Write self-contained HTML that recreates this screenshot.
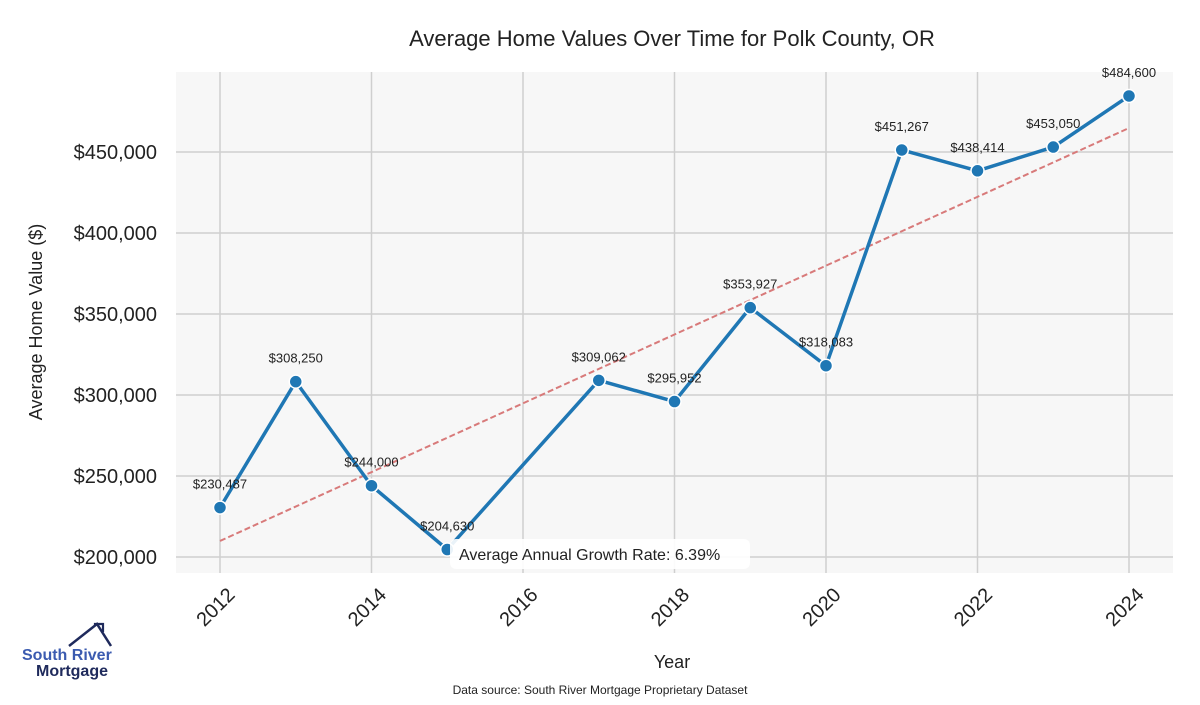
<!DOCTYPE html>
<html><head><meta charset="utf-8"><style>
body{margin:0;background:#fff;width:1200px;height:700px;overflow:hidden;font-family:"Liberation Sans",sans-serif}
</style></head><body>
<svg id="chart" width="1200" height="700" xmlns="http://www.w3.org/2000/svg">
<rect x="176" y="72" width="997" height="501" fill="#f7f7f7"/>
<g id="grid"></g>
<g id="marks"></g>
<text x="672" y="46" text-anchor="middle" font-size="22" fill="#222">Average Home Values Over Time for Polk County, OR</text>
<text x="672" y="668" text-anchor="middle" font-size="18" fill="#222">Year</text>
<text transform="translate(42,322) rotate(-90)" text-anchor="middle" font-size="18" fill="#222">Average Home Value ($)</text>
<text x="600" y="694" text-anchor="middle" font-size="12" fill="#222">Data source: South River Mortgage Proprietary Dataset</text>
<g>
<path d="M69,646 L97,624 L111,646" stroke="#1f2a5c" stroke-width="2.5" fill="none" stroke-linejoin="miter"/>
<path d="M95,626 L95,624 L103,624 L103,632" stroke="#1f2a5c" stroke-width="2.2" fill="none"/>
<text x="22" y="660" font-size="16" font-weight="bold" fill="#3b5bb0">South River</text>
<text x="36" y="676" font-size="16" font-weight="bold" fill="#1f2a5c">Mortgage</text>
</g>
</svg>
<script>
const years=[2012,2013,2014,2015,2017,2018,2019,2020,2021,2022,2023,2024];
const values=[230487,308250,244000,204630,309062,295952,353927,318083,451267,438414,453050,484600];
const yTicks=[200000,250000,300000,350000,400000,450000];
const xTicks=[2012,2014,2016,2018,2020,2022,2024];
const trendStart=209900, trendEnd=464800;
const ns="http://www.w3.org/2000/svg";
const X=y=>220+(y-2012)*75.75;
const Y=v=>557-(v-200000)/50000*81;
const grid=document.getElementById('grid'),marks=document.getElementById('marks');
function mk(t,a,p){const e=document.createElementNS(ns,t);for(const k in a)e.setAttribute(k,a[k]);p.appendChild(e);return e;}
yTicks.forEach(v=>{
 const l=mk('line',{x1:176,x2:1173,y1:Y(v),y2:Y(v),stroke:'#cfcfcf','stroke-width':1.5},grid);
 
 
 const t=mk('text',{x:157,y:Y(v)+7,'text-anchor':'end','font-size':20,fill:'#222'},grid);
 t.textContent='$'+v.toLocaleString('en-US');
 
 
});
xTicks.forEach(yr=>{
 const l=mk('line',{x1:X(yr),x2:X(yr),y1:72,y2:573,stroke:'#cfcfcf','stroke-width':1.5},grid);
 
 
 const t=mk('text',{transform:`translate(${X(yr)+16},${596}) rotate(-45)`,'text-anchor':'end','font-size':20,fill:'#222'},grid);
 t.textContent=yr;
 
 
});
const tr=mk('line',{x1:X(2012),y1:Y(trendStart),x2:X(2024),y2:Y(trendEnd),stroke:'#d87a7a','stroke-width':2,'stroke-dasharray':'6,3'},marks);


const pl=mk('polyline',{points:years.map((y,i)=>X(y)+','+Y(values[i])).join(' '),fill:'none',stroke:'#1f77b4','stroke-width':3.5,'stroke-linejoin':'round'},marks);


years.forEach((y,i)=>{
 const c=mk('circle',{cx:X(y),cy:Y(values[i]),r:6.5,fill:'#1f77b4',stroke:'#fff','stroke-width':1.5},marks);
 
 
 const t=mk('text',{x:X(y),y:Y(values[i])-19,'text-anchor':'middle','font-size':13,fill:'#222'},marks);
 t.textContent='$'+values[i].toLocaleString('en-US');
 
 
});
const g=mk('g',{},marks);


mk('rect',{x:450,y:539,width:300,height:30,rx:6,fill:'#fff',opacity:0.9},g);
const at=mk('text',{x:459,y:560,'font-size':16,fill:'#222'},g);
at.textContent='Average Annual Growth Rate: 6.39%';
</script>
</body></html>
